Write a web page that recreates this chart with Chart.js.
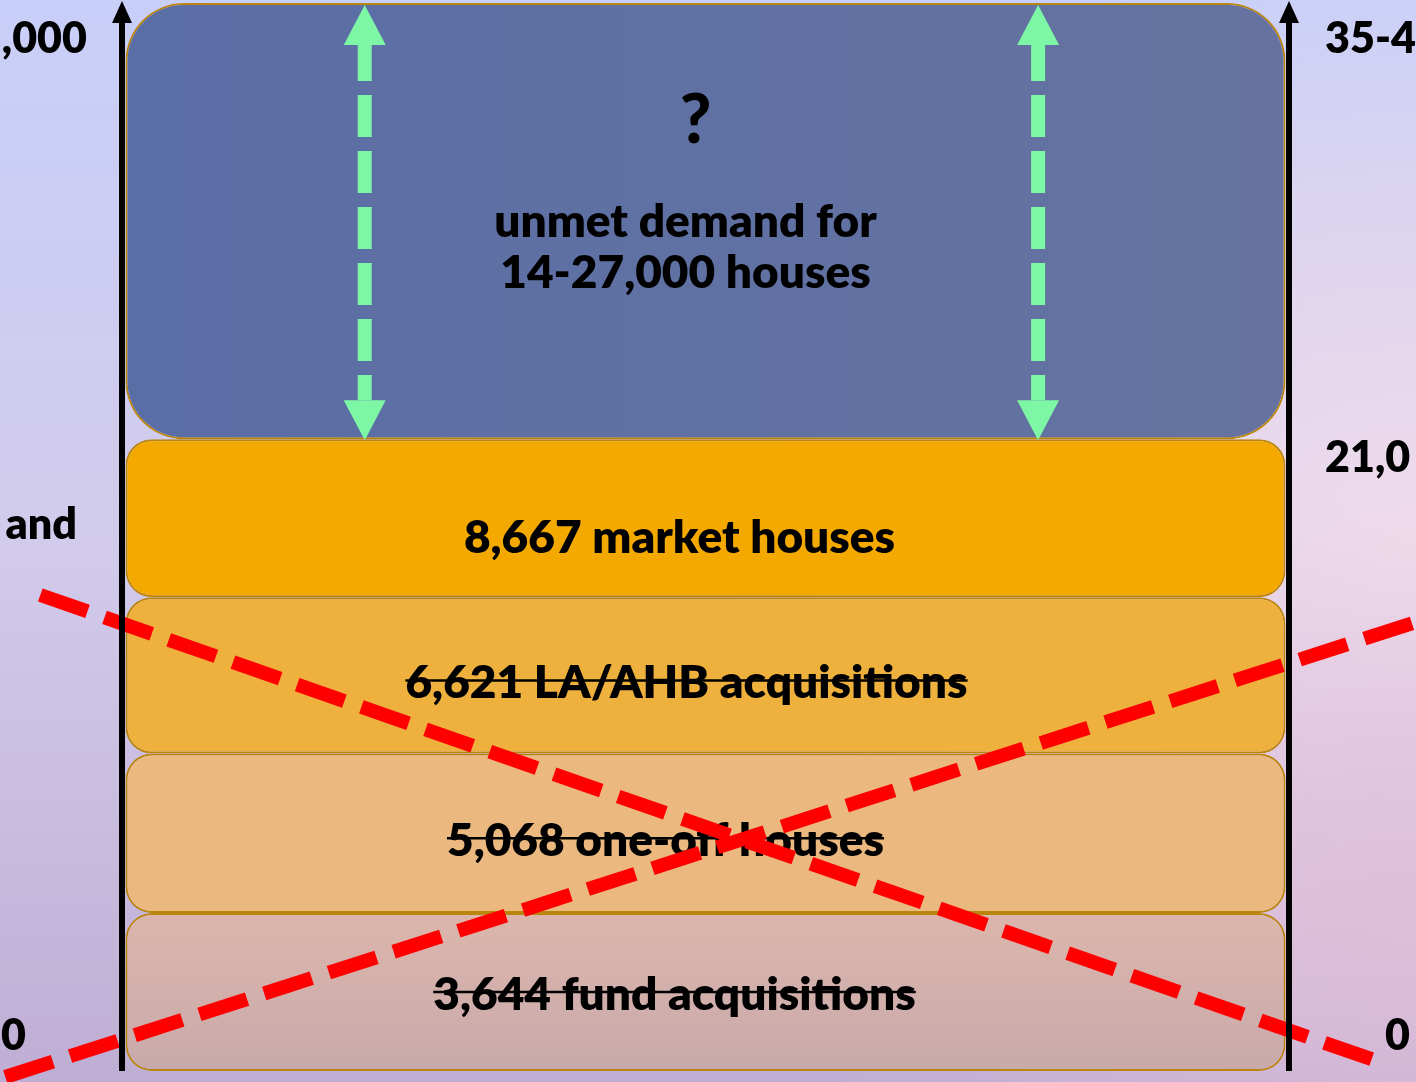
<!DOCTYPE html>
<html>
<head>
<meta charset="utf-8">
<title>Housing supply vs demand</title>
<script src="https://cdn.jsdelivr.net/npm/chart.js@4.4.1/dist/chart.umd.min.js"></script>
<style>
  html, body { margin: 0; padding: 0; }
  body {
    width: 1416px;
    height: 1082px;
    overflow: hidden;
    background:
      radial-gradient(ellipse 45% 40% at 100% 85%, rgba(226, 188, 214, 0.75), rgba(226, 188, 214, 0) 100%),
      radial-gradient(ellipse 55% 55% at 100% 50%, rgba(243, 222, 235, 0.9), rgba(243, 222, 235, 0) 100%),
      linear-gradient(180deg, #c8cff8 0%, #d2cbeb 50%, #bfaed4 100%);
  }
  canvas { display: block; }
</style>
</head>
<body>
<canvas id="supplyChart" width="1416" height="1082"></canvas>
<script>
// bands from the bottom up; heights are as drawn (schematic, not to scale)
const categories = [''];
const bandNames = [
  '3,644 fund acquisitions',
  '5,068 one-off houses',
  '6,621 LA/AHB acquisitions',
  '8,667 market houses',
  'unmet demand for\n14-27,000 houses',
];
const bandSpans = [5250, 5300, 5200, 5250, 14500];
const bandStruck = [true, true, true, false, false];
const unmetMark = '?';
const yMax = 35500;

const leftTickValues = [35500, 18150, 0];
const leftTickText = [',000', 'and', '0'];
const rightTickValues = [35500, 21000, 0];
const rightTickText = ['35-4', '21,0', '0'];

// the red cross, in (fraction of width, houses)
const crossA = [{ x: -0.1, y: -200 }, { x: 1.109, y: 14925 }];
const crossB = [{ x: -0.07, y: 15822 }, { x: 1.085, y: 200 }];
// green double arrows inside the unmet band
const arrowX = [0.208, 0.785];

const bandColors = ['#d4b3aa', '#ebb980', '#efb13d', '#f4a900', '#5f70a3'];
const bandRadius = [26, 26, 26, 26, 58];
const labelDy = [3, 8, 8, 20, 27];
const labelDx = [-31, -40, -19, -26, -20];

let acc = 0;
const bandRanges = bandSpans.map((s) => {
  const r = [acc, acc + s];
  acc += s;
  return r;
});

const FONT = 'Lato, "Open Sans", sans-serif';

// a few bands fade a little across their area
const bandFill = (i) => (context) => {
  const { chart } = context;
  const { chartArea } = chart;
  if (!chartArea) return bandColors[i];
  const y = chart.scales.y;
  if (i === 0) {
    const g = chart.ctx.createLinearGradient(0, y.getPixelForValue(bandRanges[0][1]), 0, y.getPixelForValue(0));
    g.addColorStop(0, '#dcb6ab');
    g.addColorStop(1, '#c8a9ab');
    return g;
  }
  if (i === 4) {
    const g = chart.ctx.createLinearGradient(chartArea.left, 0, chartArea.right, 0);
    g.addColorStop(0, '#5a6ea6');
    g.addColorStop(1, '#6673a0');
    return g;
  }
  return bandColors[i];
};

const bandDataSets = bandNames.map((name, i) => ({
  type: 'bar',
  label: name,
  data: [bandRanges[i]],
  backgroundColor: bandFill(i),
  borderColor: '#bb860f',
  borderWidth: 2,
  borderSkipped: false,
  borderRadius: bandRadius[i],
  order: 2,
}));

const crossDataSets = [crossA, crossB].map((pts, i) => ({
  type: 'line',
  label: `cross${i}`,
  data: pts,
  xAxisID: 'xl',
  yAxisID: 'yl',
  borderColor: '#ff0000',
  borderWidth: 14,
  borderDash: [50, 18],
  borderCapStyle: 'butt',
  pointRadius: 0,
  fill: false,
  clip: false,
  order: 1,
}));

const drawArrowHead = (ctx, x, tipY, dir) => {
  ctx.beginPath();
  ctx.moveTo(x, tipY);
  ctx.lineTo(x - 21, tipY + dir * 40);
  ctx.lineTo(x + 21, tipY + dir * 40);
  ctx.closePath();
  ctx.fill();
};

const bandLabels = {
  id: 'bandLabels',
  afterDatasetDraw(chart, args) {
    const ds = chart.data.datasets[args.index];
    if (ds.type !== 'bar') return;
    const i = args.index;
    const el = args.meta.data[0];
    const { ctx } = chart;
    const cx = el.x + labelDx[i];
    const cy = (el.y + el.base) / 2 + labelDy[i];
    const lines = bandNames[i].split('\n');
    ctx.save();
    ctx.fillStyle = '#000';
    ctx.font = `800 46px ${FONT}`;
    ctx.textAlign = 'center';
    ctx.textBaseline = 'middle';
    lines.forEach((line, k) => {
      const y = cy + (k - (lines.length - 1) / 2) * 51;
      ctx.fillText(line, cx, y);
      if (bandStruck[i]) {
        const w = ctx.measureText(line).width;
        ctx.lineWidth = 2.5;
        ctx.strokeStyle = '#000';
        ctx.beginPath();
        ctx.moveTo(cx - w / 2, y - 3);
        ctx.lineTo(cx + w / 2, y - 3);
        ctx.stroke();
      }
    });

    if (i === bandNames.length - 1) {
      ctx.font = `900 68px ${FONT}`;
      ctx.fillText(unmetMark, el.x - 10, el.y + 118);

      const xl = chart.scales.xl;
      const top = el.y + 2;
      const bottom = el.base + 1;
      ctx.fillStyle = '#7df7a6';
      ctx.strokeStyle = '#7df7a6';
      arrowX.forEach((v) => {
        const x = xl.getPixelForValue(v);
        drawArrowHead(ctx, x, top, 1);
        drawArrowHead(ctx, x, bottom, -1);
        ctx.lineWidth = 14;
        ctx.setLineDash([42, 14]);
        ctx.lineDashOffset = 6;
        ctx.beginPath();
        ctx.moveTo(x, top + 40);
        ctx.lineTo(x, bottom - 40);
        ctx.stroke();
        ctx.setLineDash([]);
      });
    }
    ctx.restore();
  },
};

const axisArrows = {
  id: 'axisArrows',
  afterDraw(chart) {
    const { ctx, chartArea } = chart;
    const y = chart.scales.y;
    const base = y.getPixelForValue(0);
    ctx.save();
    ctx.fillStyle = '#000';
    ctx.strokeStyle = '#000';
    [chartArea.left, chartArea.right].forEach((x) => {
      ctx.lineWidth = 6;
      ctx.beginPath();
      ctx.moveTo(x, base);
      ctx.lineTo(x, 18);
      ctx.stroke();
      ctx.beginPath();
      ctx.moveTo(x, 1);
      ctx.lineTo(x - 10, 23);
      ctx.lineTo(x + 10, 23);
      ctx.closePath();
      ctx.fill();
    });

    ctx.font = `800 43px ${FONT}`;
    ctx.textBaseline = 'middle';
    const shift = (v) => {
      if (v === yMax) return 36;
      if (v === 0) return -35;
      if (v === 21000) return 19;
      return 0;
    };
    // the side labels are cut by the frame, as in the slide
    const leftGap = [35, 45, 96];
    ctx.textAlign = 'right';
    leftTickValues.forEach((v, k) => {
      ctx.fillText(leftTickText[k], chartArea.left - leftGap[k], y.getPixelForValue(v) + shift(v));
    });
    ctx.textAlign = 'left';
    rightTickValues.forEach((v, k) => {
      const x = v === 0 ? chartArea.right + 96 : chartArea.right + 36;
      ctx.fillText(rightTickText[k], x, y.getPixelForValue(v) + shift(v));
    });
    ctx.restore();
  },
};

const ctx = document.getElementById('supplyChart').getContext('2d');
// eslint-disable-next-line no-undef, no-unused-vars
const chart = new Chart(ctx, {
  data: {
    labels: categories,
    datasets: [...bandDataSets, ...crossDataSets],
  },
  options: {
    responsive: false,
    animation: false,
    devicePixelRatio: 1,
    layout: { padding: { left: 122, right: 127, top: 3, bottom: 11 } },
    datasets: {
      bar: { grouped: false, categoryPercentage: 1, barPercentage: 0.994 },
    },
    plugins: { legend: { display: false }, tooltip: { enabled: false } },
    scales: {
      x: { type: 'category', display: false },
      y: { min: 0, max: yMax, display: false },
      xl: { type: 'linear', min: 0, max: 1, display: false },
      yl: { type: 'linear', min: 0, max: yMax, display: false },
    },
  },
  plugins: [bandLabels, axisArrows],
});
</script>
</body>
</html>
